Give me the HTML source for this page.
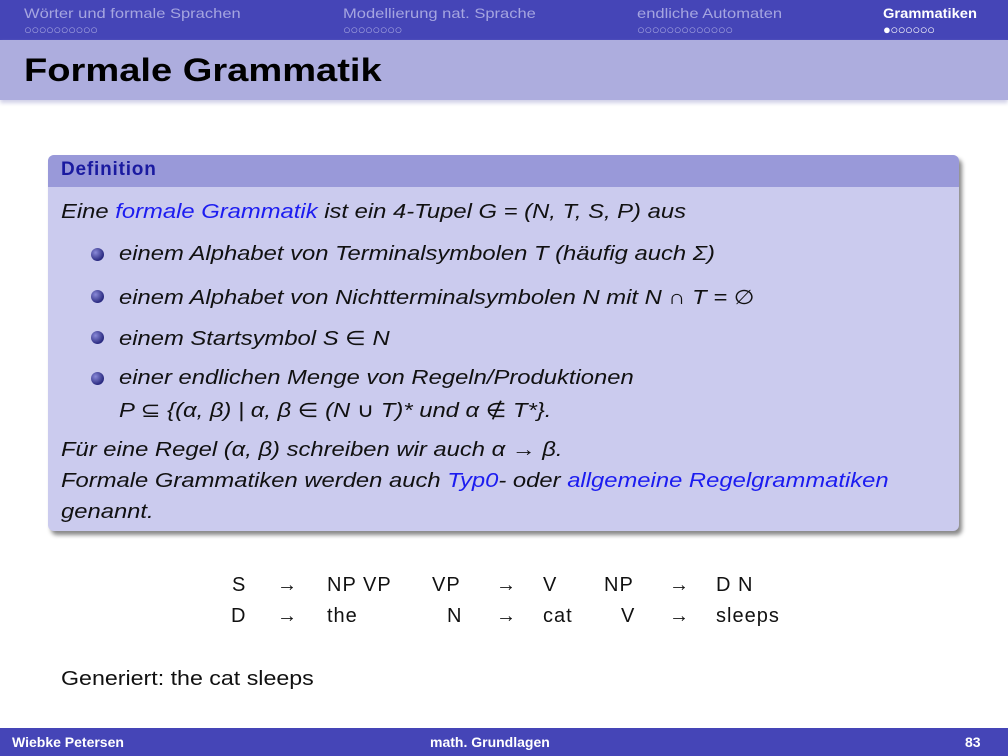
<!DOCTYPE html>
<html><head><meta charset="utf-8"><style>
body{margin:0;width:1008px;height:756px;position:relative;background:#fff;font-family:"Liberation Sans","DejaVu Sans",sans-serif;overflow:hidden}
.nav{position:absolute;left:0;top:0;width:1008px;height:40px;background:#4545b7}
.nav .t{position:absolute;top:5px;font-size:14px;color:#a5a5e0;transform:scaleX(1.18);transform-origin:0 0;white-space:nowrap}
.nav .d{position:absolute;top:22px;font-size:13px;letter-spacing:-0.5px;color:#a5a5e0}
.title{position:absolute;left:0;top:40px;width:1008px;height:60px;background:#adadde;box-shadow:0 3px 4px #d0d0e8}
.title span{position:absolute;left:24px;top:12px;font-size:32px;font-weight:bold;color:#000;transform:scaleX(1.19);transform-origin:0 0;white-space:nowrap}
.box{position:absolute;left:48px;top:155px;width:911px;height:376px;background:#cbcbee;border-radius:6px;box-shadow:3px 4px 4px #888}
.bh{height:32px;background:#9999d9;border-radius:6px 6px 0 0;font-weight:bold;color:#1a1aa0;font-size:19px;padding:4px 0 0 13px;box-sizing:border-box;letter-spacing:0.8px}
.l{position:absolute;font-style:italic;font-size:20px;color:#111;white-space:nowrap;transform:scaleX(1.19);transform-origin:0 0}
.b{color:#1c1cf0}
.bul{position:absolute;left:43px;width:13px;height:13px;border-radius:50%;background:radial-gradient(circle at 35% 35%,#8a8ad8,#2a2a80 70%)}
.g{position:absolute;font-size:20px;color:#111;letter-spacing:1px;white-space:nowrap}
.foot{position:absolute;left:0;top:728px;width:1008px;height:28px;background:#4545b7;color:#fff;font-size:14px;font-weight:bold}
</style></head><body>
<div class="nav">
<div class="t" style="left:24px">Wörter und formale Sprachen</div><div class="d" style="left:24px">○○○○○○○○○○</div>
<div class="t" style="left:343px">Modellierung nat. Sprache</div><div class="d" style="left:343px">○○○○○○○○</div>
<div class="t" style="left:637px">endliche Automaten</div><div class="d" style="left:637px">○○○○○○○○○○○○○</div>
<div class="t" style="left:883px;color:#fff;font-weight:bold;transform:scaleX(1.05)">Grammatiken</div><div class="d" style="left:883px;color:#fff">●○○○○○○</div>
</div>
<div class="title"><span>Formale Grammatik</span></div>
<div class="box"><div class="bh">Definition</div>
<div class="l" style="left:13px;top:46px">Eine <span class="b">formale Grammatik</span> ist ein 4-Tupel G = (N, T, S, P) aus</div>
<div class="bul" style="top:93px"></div><div class="l" style="left:71px;top:88px">einem Alphabet von Terminalsymbolen T (häufig auch Σ)</div>
<div class="bul" style="top:135px"></div><div class="l" style="left:71px;top:130px">einem Alphabet von Nichtterminalsymbolen N mit N ∩ T = ∅</div>
<div class="bul" style="top:176px"></div><div class="l" style="left:71px;top:171px">einem Startsymbol S ∈ N</div>
<div class="bul" style="top:217px"></div><div class="l" style="left:71px;top:212px">einer endlichen Menge von Regeln/Produktionen</div>
<div class="l" style="left:71px;top:243px">P ⊆ {(α, β) | α, β ∈ (N ∪ T)* und α ∉ T*}.</div>
<div class="l" style="left:13px;top:284px">Für eine Regel (α, β) schreiben wir auch α → β.</div>
<div class="l" style="left:13px;top:315px">Formale Grammatiken werden auch <span class="b">Typ0</span>- oder <span class="b">allgemeine Regelgrammatiken</span></div>
<div class="l" style="left:13px;top:346px">genannt.</div>
</div>
<div class="g" style="left:232px;top:574px">S</div><div class="g" style="left:277px;top:574px">→</div><div class="g" style="left:327px;top:574px">NP VP</div>
<div class="g" style="left:432px;top:574px">VP</div><div class="g" style="left:496px;top:574px">→</div><div class="g" style="left:543px;top:574px">V</div>
<div class="g" style="left:604px;top:574px">NP</div><div class="g" style="left:669px;top:574px">→</div><div class="g" style="left:716px;top:574px">D N</div>
<div class="g" style="left:231px;top:605px">D</div><div class="g" style="left:277px;top:605px">→</div><div class="g" style="left:327px;top:605px">the</div>
<div class="g" style="left:447px;top:605px">N</div><div class="g" style="left:496px;top:605px">→</div><div class="g" style="left:543px;top:605px">cat</div>
<div class="g" style="left:621px;top:605px">V</div><div class="g" style="left:669px;top:605px">→</div><div class="g" style="left:716px;top:605px">sleeps</div>
<div class="g" style="left:61px;top:668px;letter-spacing:0;transform:scaleX(1.16);transform-origin:0 0">Generiert: the cat sleeps</div>
<div class="foot"><span style="position:absolute;left:12px;top:6px">Wiebke Petersen</span><span style="position:absolute;left:430px;top:6px">math. Grundlagen</span><span style="position:absolute;left:965px;top:6px">83</span></div>
</body></html>
